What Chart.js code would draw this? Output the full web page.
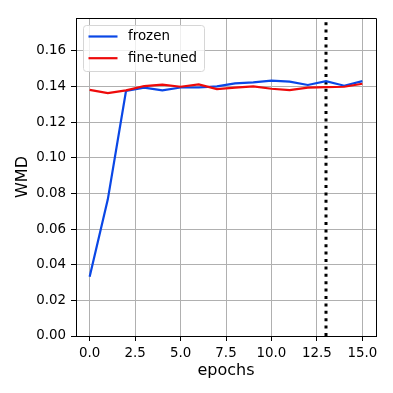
<!DOCTYPE html>
<html>
<head>
<meta charset="utf-8">
<script src="https://cdn.jsdelivr.net/npm/chart.js@4/dist/chart.umd.min.js"></script>
<style>
   html, body { margin: 0; padding: 0; background: #fff; }
   #wrap { width: 393px; height: 393px; }
</style>
</head>
<body>
<div id="wrap"><canvas id="wmd" width="393" height="393"></canvas></div>
<script>
const epochs = [0, 1, 2, 3, 4, 5, 6, 7, 8, 9, 10, 11, 12, 13, 14, 15];
const frozen = [0.0333, 0.0767, 0.1375, 0.1394, 0.1379, 0.1395, 0.1395, 0.1401, 0.1418, 0.1424, 0.1433, 0.1428, 0.1409, 0.1431, 0.1405, 0.1431];
const fineTuned = [0.1382, 0.1363, 0.1379, 0.1403, 0.1411, 0.1399, 0.1412, 0.1386, 0.1394, 0.1401, 0.1388, 0.1380, 0.1394, 0.1397, 0.1399, 0.1416];
const bestEpoch = 13;
const xTicks = [0, 2.5, 5, 7.5, 10, 12.5, 15];
const yTicks = [0, 0.02, 0.04, 0.06, 0.08, 0.1, 0.12, 0.14, 0.16];
const yMax = 0.1785;

const font = "'DejaVu Sans', sans-serif";
const blue = '#0a47e6';
const red = '#ee0a0a';

const toPoints = (ys) => ys.map((y, i) => ({ x: epochs[i], y }));

// top/right spines + legend inside the plot area, like matplotlib
const frameAndLegend = {
   id: 'frameAndLegend',
   afterDraw(chart) {
      const ctx = chart.ctx;
      const a = chart.chartArea;
      ctx.save();
      ctx.strokeStyle = '#000';
      ctx.lineWidth = 1;
      ctx.beginPath();
      ctx.moveTo(a.left, a.top + 0.5);
      ctx.lineTo(a.right + 0.5, a.top + 0.5);
      ctx.lineTo(a.right + 0.5, a.bottom);
      ctx.stroke();

      const x = a.left + 7, y = a.top + 7, w = 121, h = 46;
      ctx.fillStyle = 'rgba(255,255,255,0.8)';
      ctx.strokeStyle = '#d6d6d6';
      ctx.beginPath();
      ctx.roundRect(x + 0.5, y + 0.5, w, h, 3);
      ctx.fill();
      ctx.stroke();
      const items = [['frozen', blue], ['fine-tuned', red]];
      ctx.font = '13.4px ' + font;
      ctx.textBaseline = 'middle';
      items.forEach(([label, color], i) => {
         const ly = y + 11.5 + i * 21.7;
         ctx.strokeStyle = color;
         ctx.lineWidth = 2.2;
         ctx.beginPath();
         ctx.moveTo(x + 5.5, ly);
         ctx.lineTo(x + 34.5, ly);
         ctx.stroke();
         ctx.fillStyle = '#000';
         ctx.fillText(label, x + 45, ly);
      });
      ctx.restore();
   },
};

new Chart(document.getElementById('wmd'), {
   type: 'line',
   data: {
      datasets: [
         {
            label: 'fine-tuned',
            data: toPoints(fineTuned),
            borderColor: red,
            borderWidth: 2.2,
            pointRadius: 0,
            tension: 0,
            order: 1,
         },
         {
            label: 'frozen',
            data: toPoints(frozen),
            borderColor: blue,
            borderWidth: 2.2,
            pointRadius: 0,
            tension: 0,
            order: 2,
         },
         {
            label: 'best',
            data: [{ x: bestEpoch, y: 0 }, { x: bestEpoch, y: yMax }],
            borderColor: '#000',
            borderWidth: 3,
            borderDash: [3, 4.4],
            borderCapStyle: 'butt',
            pointRadius: 0,
            order: 3,
         },
      ],
   },
   options: {
      responsive: false,
      animation: false,
      layout: { padding: { top: 18, right: 17, left: 0, bottom: 0 } },
      plugins: { legend: { display: false }, tooltip: { enabled: false } },
      scales: {
         x: {
            type: 'linear',
            min: -0.75,
            max: 15.75,
            afterBuildTicks: (s) => { s.ticks = xTicks.map((v) => ({ value: v })); },
            afterFit: (s) => { s.height = 57; },
            ticks: {
               color: '#000',
               font: { family: font, size: 13.4 },
               padding: 4,
               maxRotation: 0,
               callback: (v) => v.toFixed(1),
            },
            grid: { color: '#b0b0b0', lineWidth: 1, tickColor: '#000', tickLength: 5 },
            border: { color: '#000', width: 1 },
            title: {
               display: true,
               text: 'epochs',
               color: '#000',
               font: { family: font, size: 16 },
               padding: { top: 0, bottom: 13 },
            },
         },
         y: {
            type: 'linear',
            min: 0,
            max: yMax,
            afterBuildTicks: (s) => { s.ticks = yTicks.map((v) => ({ value: v })); },
            afterFit: (s) => { s.width = 76; },
            ticks: {
               color: '#000',
               font: { family: font, size: 13.4 },
               padding: 5,
               callback: (v) => v.toFixed(2),
            },
            grid: { color: '#b0b0b0', lineWidth: 1, tickColor: '#000', tickLength: 5 },
            border: { color: '#000', width: 1 },
            title: {
               display: true,
               text: 'WMD',
               color: '#000',
               font: { family: font, size: 16 },
               padding: { top: 13, bottom: 0 },
            },
         },
      },
   },
   plugins: [frameAndLegend],
});
</script>
</body>
</html>
